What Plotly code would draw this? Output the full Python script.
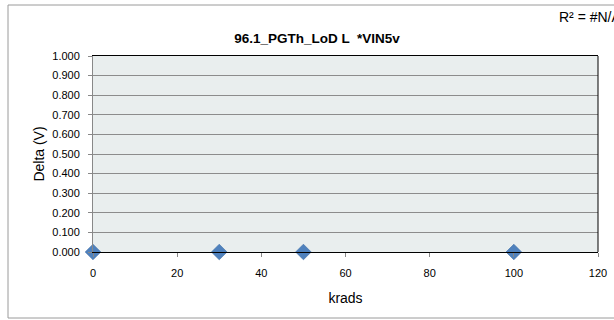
import plotly.graph_objects as go

krads = [0, 30, 50, 100]
delta = [0.0, 0.0, 0.0, 0.0]
title_text = "96.1_PGTh_LoD L  *VIN5v"
r2_text = "R² = #N/A"

FONT = "Liberation Sans, Arial, sans-serif"

L, R, T, B = 93, 16, 56, 68
PW, PH = 614 - L - R, 320 - T - B

bx0 = (8 - L) / PW
bx1 = (614 - L) / PW
by0 = -(318 - 252) / PH
by1 = 1 + (T - 5) / PH
border = dict(color="#9A9A9A", width=1)

fig = go.Figure()
fig.add_trace(go.Scatter(
    x=krads, y=delta, mode="markers",
    marker=dict(symbol="diamond", size=12, color="#4F81BD",
                line=dict(width=0.6, color="#3A6BA5")),
    cliponaxis=False, showlegend=False, hoverinfo="skip"))

fig.update_layout(
    width=614, height=320,
    margin=dict(l=L, r=R, t=T, b=B, autoexpand=False),
    paper_bgcolor="white", plot_bgcolor="#E9EEEE",
    font=dict(family=FONT, size=11, color="black"),
    title=dict(text="<b>" + title_text + "</b>", x=317 / 614, xanchor="center",
               y=1 - 38 / 320, yanchor="middle",
               font=dict(family=FONT, size=13.5, color="black")),
    xaxis=dict(range=[0, 120], dtick=20, tick0=0, showgrid=False,
               zeroline=False, showline=True, linecolor="black", linewidth=1,
               mirror=True, ticks="outside", ticklen=4, tickcolor="#888888",
               ticklabelstandoff=7, automargin=False,
               title=dict(text="krads", font=dict(size=14), standoff=14)),
    yaxis=dict(range=[0, 1], dtick=0.1, tick0=0, tickformat=".3f",
               showgrid=True, gridcolor="#8C8C8C", gridwidth=1,
               zeroline=False, showline=True, linecolor="#888888", linewidth=1,
               ticks="outside", ticklen=4, tickcolor="#888888",
               ticklabelstandoff=6, automargin=False,
               title=dict(text="Delta (V)", font=dict(size=14), standoff=4)),
    shapes=[
        dict(type="line", xref="paper", yref="paper", x0=bx0, x1=bx0, y0=by0, y1=by1, line=border),
        dict(type="line", xref="paper", yref="paper", x0=bx0, x1=bx1, y0=by1, y1=by1, line=border),
        dict(type="line", xref="paper", yref="paper", x0=bx0, x1=bx1, y0=by0, y1=by0, line=border),
        dict(type="line", xref="paper", yref="paper", x0=1, x1=1, y0=0, y1=1,
             line=dict(color="black", width=1)),
    ],
    annotations=[
        dict(text=r2_text, xref="paper", yref="paper",
             x=(557 - L) / PW, y=1 + (T - 17) / PH,
             xanchor="left", yanchor="middle", showarrow=False,
             font=dict(family=FONT, size=14, color="black")),
    ],
)

fig.write_html(
    "out.html", config={"displayModeBar": False},
    post_script=("document.documentElement.style.overflow='hidden';"
                 "document.body.style.margin='0';"
                 "document.body.style.overflow='hidden';"))
